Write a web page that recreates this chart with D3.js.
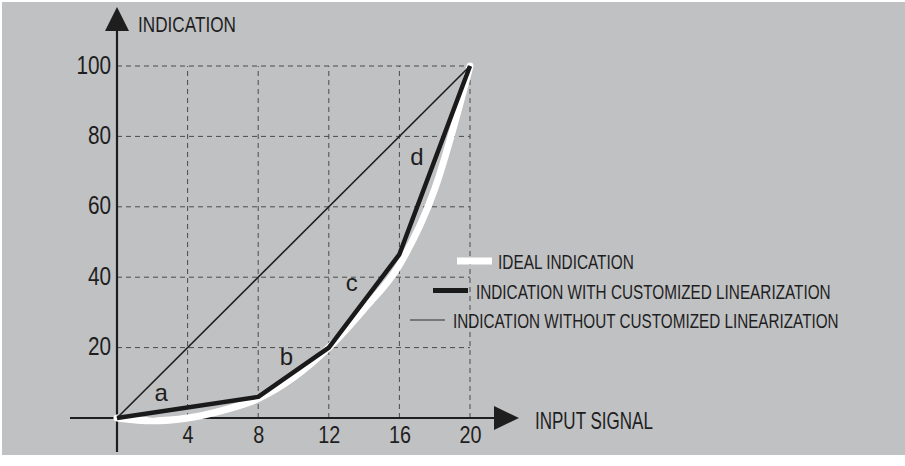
<!DOCTYPE html>
<html>
<head>
<meta charset="utf-8">
<script src="https://cdn.jsdelivr.net/npm/d3@7"></script>
<style>
  html, body { margin: 0; padding: 0; background: #ffffff; }
  svg { display: block; }
  text { font-family: "Liberation Sans", Arial, sans-serif; fill: #1e1e1e; }
</style>
</head>
<body>
<svg id="chart" width="905" height="466"></svg>
<script>
// ---- data ----
const xTicks = [4, 8, 12, 16, 20];
const yTicks = [20, 40, 60, 80, 100];
const xTickLabels = ["4", "8", "12", "16", "20"];
const yTickLabels = ["20", "40", "60", "80", "100"];

const idealX = [0, 2, 4, 6, 8, 10, 12, 14, 16, 18, 20];
const idealY = [0, -0.8, 0, 2.2, 5.5, 11.5, 20, 31, 43.5, 65, 100];

const customX = [0, 8, 12, 16, 20];
const customY = [0, 6, 20, 46.5, 100];

const plainX = [0, 20];
const plainY = [0, 100];

const segmentLabels = ["a", "b", "c", "d"];
const segmentLabelX = [2.5, 9.6, 13.3, 17];
const segmentLabelY = [4.8, 15, 36, 72];

const legendLabels = ["IDEAL INDICATION", "INDICATION WITH CUSTOMIZED LINEARIZATION", "INDICATION WITHOUT CUSTOMIZED LINEARIZATION"];
const yAxisTitle = "INDICATION";
const xAxisTitle = "INPUT SIGNAL";

// ---- drawing ----
const FONT = "'Liberation Sans', Arial, sans-serif";
const svg = d3.select("#chart");
svg.append("rect").attr("x", 2).attr("y", 2).attr("width", 903).attr("height", 453).attr("fill", "#c0c1c3");

const x = d3.scaleLinear().domain([0, 20]).range([117, 470]);
const y = d3.scaleLinear().domain([0, 100]).range([418, 66]);

// grid
const grid = svg.append("g").attr("stroke", "#4a4a4a").attr("stroke-width", 1).attr("stroke-dasharray", "5,4").attr("fill", "none");
grid.selectAll("line.h").data(yTicks).join("line").attr("class", "h")
  .attr("x1", x(0)).attr("x2", x(20)).attr("y1", d => y(d)).attr("y2", d => y(d));
grid.selectAll("line.v").data(xTicks).join("line").attr("class", "v")
  .attr("x1", d => x(d)).attr("x2", d => x(d)).attr("y1", y(0)).attr("y2", y(100));

// axes lines + arrows
svg.append("line").attr("x1", 70).attr("x2", 500).attr("y1", y(0)).attr("y2", y(0)).attr("stroke", "#1e1e1e").attr("stroke-width", 2);
svg.append("line").attr("x1", x(0)).attr("x2", x(0)).attr("y1", 25).attr("y2", 452).attr("stroke", "#1e1e1e").attr("stroke-width", 2.2);
svg.append("path").attr("d", `M${x(0)},7 L${x(0) + 12},31 L${x(0) - 12},31 Z`).attr("fill", "#1e1e1e");
svg.append("path").attr("d", `M519,${y(0)} L494,${y(0) - 12} L494,${y(0) + 12} Z`).attr("fill", "#1e1e1e");

// tick labels using d3 axes
const xAxis = d3.axisBottom(x).tickValues(xTicks).tickFormat((d, i) => xTickLabels[i]).tickSize(0).tickPadding(0);
const gx = svg.append("g").attr("transform", `translate(0,${y(0)})`).call(xAxis);
gx.select(".domain").remove();
gx.selectAll("text").attr("y", 0).attr("dy", 0).style("font-size", "23px").style("font-family", FONT).attr("fill", "#1e1e1e")
  .attr("transform", "translate(0,25) scale(0.86,1)");

const yAxis = d3.axisLeft(y).tickValues(yTicks).tickFormat((d, i) => yTickLabels[i]).tickSize(0).tickPadding(0);
const gy = svg.append("g").attr("transform", `translate(${x(0) - 6},0)`).call(yAxis);
gy.select(".domain").remove();
gy.selectAll("text").attr("x", 0).attr("dy", 0).style("font-size", "25px").style("font-family", FONT).attr("fill", "#1e1e1e")
  .attr("transform", "translate(0,7) scale(0.83,1)");

// lines
const idealPts = idealX.map((v, i) => [v, idealY[i]]);
const customPts = customX.map((v, i) => [v, customY[i]]);
const plainPts = plainX.map((v, i) => [v, plainY[i]]);

svg.append("path").datum(idealPts).attr("d", d3.line().x(d => x(d[0])).y(d => y(d[1])).curve(d3.curveMonotoneX))
  .attr("fill", "none").attr("stroke", "#ffffff").attr("stroke-width", 7).attr("stroke-linecap", "round");
svg.append("path").datum(plainPts).attr("d", d3.line().x(d => x(d[0])).y(d => y(d[1])))
  .attr("fill", "none").attr("stroke", "#1e1e1e").attr("stroke-width", 1.6);
svg.append("path").datum(customPts).attr("d", d3.line().x(d => x(d[0])).y(d => y(d[1])))
  .attr("fill", "none").attr("stroke", "#1a1a1a").attr("stroke-width", 4.5).attr("stroke-linejoin", "round");

// segment labels
svg.selectAll("text.seg").data(segmentLabels).join("text").attr("class", "seg")
  .attr("x", (d, i) => x(segmentLabelX[i])).attr("y", (d, i) => y(segmentLabelY[i]))
  .attr("text-anchor", "middle").style("font-size", "24px").text(d => d);

// titles (fit to measured widths with a horizontal scale)
function fitText(str, tx, ty, size, width) {
  const t = svg.append("text").attr("x", 0).attr("y", 0).style("font-size", size + "px").text(str);
  const w = t.node().getComputedTextLength();
  t.attr("transform", `translate(${tx},${ty}) scale(${width / w},1)`);
  return t;
}
fitText(yAxisTitle, 138, 32, 22, 98);
fitText(xAxisTitle, 535, 429, 23, 118);

// legend
const legX1 = [457, 433, 410];
const legY = [261, 290.5, 320];
const legStroke = ["#ffffff", "#1a1a1a", "#5e5e5e"];
const legWidth = [7, 5, 1.5];
const legTextX = [498, 476, 453];
const legTextW = [136, 355, 386];
legendLabels.forEach((lab, i) => {
  svg.append("line").attr("x1", legX1[i]).attr("x2", legX1[i] + 35).attr("y1", legY[i]).attr("y2", legY[i])
    .attr("stroke", legStroke[i]).attr("stroke-width", legWidth[i]);
  fitText(lab, legTextX[i], legY[i] + 8, 20, legTextW[i]);
});
</script>
</body>
</html>
